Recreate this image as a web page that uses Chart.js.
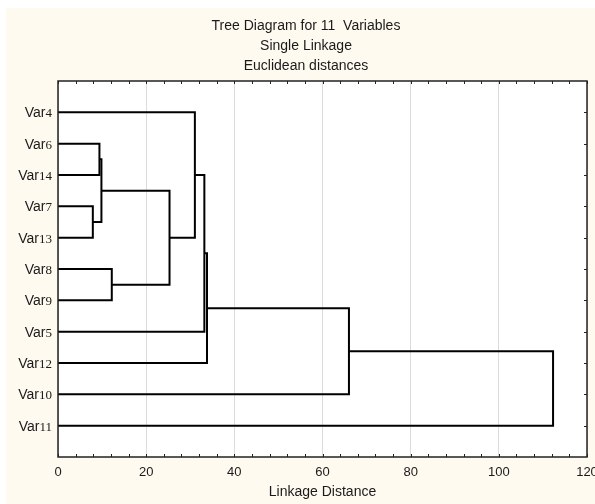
<!DOCTYPE html>
<html>
<head>
<meta charset="utf-8">
<script src="https://cdn.jsdelivr.net/npm/chart.js@4.4.0/dist/chart.umd.min.js"></script>
<style>
  html, body { margin: 0; padding: 0; background: #fff; }
</style>
</head>
<body>
<canvas id="chart" width="595" height="504"></canvas>
<script>
// leaves in the order they are drawn, top to bottom
const leaves = ['Var4', 'Var6', 'Var14', 'Var7', 'Var13', 'Var8', 'Var9', 'Var5', 'Var12', 'Var10', 'Var11'];

// merge steps: index < 11 is a leaf, 11+ is the cluster made at step (index - 11)
const mergeLeft  = [3, 1, 12, 5, 13, 0, 16, 17, 18, 19];
const mergeRight = [4, 2, 11, 6, 14, 15, 7, 8, 9, 10];
const mergeDist  = [7.9, 9.4, 9.85, 12.2, 25.3, 31.05, 33.2, 33.8, 66.0, 112.3];

const titleLines = ['Tree Diagram for 11  Variables', 'Single Linkage', 'Euclidean distances'];
const xTitle = 'Linkage Distance';

// position (row) and height of every node
const nodeY = leaves.map((_, i) => i + 1);
const nodeH = leaves.map(() => 0);
const datasets = [];
for (let i = 0; i < mergeDist.length; i++) {
  const a = mergeLeft[i], b = mergeRight[i], d = mergeDist[i];
  datasets.push({
    data: [
      { x: nodeH[a], y: nodeY[a] },
      { x: d, y: nodeY[a] },
      { x: d, y: nodeY[b] },
      { x: nodeH[b], y: nodeY[b] }
    ],
    showLine: true,
    borderColor: '#000',
    borderWidth: 2,
    pointRadius: 0,
    fill: false
  });
  nodeY.push((nodeY[a] + nodeY[b]) / 2);
  nodeH.push(d);
}

const decor = {
  id: 'decor',
  beforeDraw(chart) {
    const ctx = chart.ctx, a = chart.chartArea;
    ctx.save();
    ctx.fillStyle = '#fefaf0';
    ctx.fillRect(6, 8, chart.width - 6, chart.height - 8);
    ctx.fillStyle = '#fff';
    ctx.fillRect(a.left, a.top, a.right - a.left, a.bottom - a.top);
    ctx.restore();
  },
  afterDraw(chart) {
    const ctx = chart.ctx, a = chart.chartArea;
    const xs = chart.scales.x, ys = chart.scales.y;
    ctx.save();
    // frame
    ctx.strokeStyle = '#222';
    ctx.lineWidth = 1.5;
    ctx.strokeRect(a.left, a.top, a.right - a.left, a.bottom - a.top);
    // inward tick marks
    ctx.lineWidth = 1;
    ctx.beginPath();
    for (let v = 0; v <= 120; v += 4) {
      const px = Math.round(xs.getPixelForValue(v)) + 0.5;
      ctx.moveTo(px, a.bottom); ctx.lineTo(px, a.bottom - 3);
      ctx.moveTo(px, a.top); ctx.lineTo(px, a.top + 3);
    }
    leaves.forEach((_, i) => {
      const py = Math.round(ys.getPixelForValue(i + 1)) + 0.5;
      ctx.moveTo(a.right, py); ctx.lineTo(a.right - 3, py);
    });
    ctx.stroke();
    // leaf labels: "Var" sans, number serif
    ctx.fillStyle = '#1a1a1a';
    ctx.textBaseline = 'alphabetic';
    ctx.textAlign = 'right';
    leaves.forEach((name, i) => {
      const py = ys.getPixelForValue(i + 1) + 5;
      const num = name.slice(3);
      ctx.font = '13px "Liberation Serif"';
      const w = ctx.measureText(num).width;
      ctx.fillText(num, a.left - 6, py);
      ctx.font = '14px "Liberation Sans"';
      ctx.fillText('Var', a.left - 6 - w, py);
    });
    // title
    ctx.textAlign = 'center';
    ctx.font = '14px "Liberation Sans"';
    titleLines.forEach((t, i) => ctx.fillText(t, 306, 30 + i * 20));
    ctx.restore();
  }
};

new Chart(document.getElementById('chart'), {
  type: 'scatter',
  data: { datasets },
  options: {
    responsive: false,
    animation: false,
    layout: { padding: { top: 81, right: 8, left: 0, bottom: 0 } },
    plugins: { legend: { display: false }, tooltip: { enabled: false }, title: { display: false } },
    scales: {
      x: {
        type: 'linear', min: 0, max: 120,
        border: { display: false },
        grid: { color: '#dcdcdc', lineWidth: 1, drawTicks: false },
        ticks: { stepSize: 20, padding: 8, color: '#1a1a1a', font: { family: 'Liberation Sans', size: 13 } },
        title: { display: true, text: xTitle, color: '#1a1a1a', font: { family: 'Liberation Sans', size: 14 }, padding: { top: 0, bottom: 3 } },
        afterFit(s) { s.height = 47; s.paddingLeft = 0; s.paddingRight = 0; }
      },
      y: {
        type: 'linear', min: 0, max: 12, reverse: true,
        border: { display: false },
        grid: { display: false },
        ticks: { display: false },
        afterFit(s) { s.width = 58; }
      }
    }
  },
  plugins: [decor]
});
</script>
</body>
</html>
